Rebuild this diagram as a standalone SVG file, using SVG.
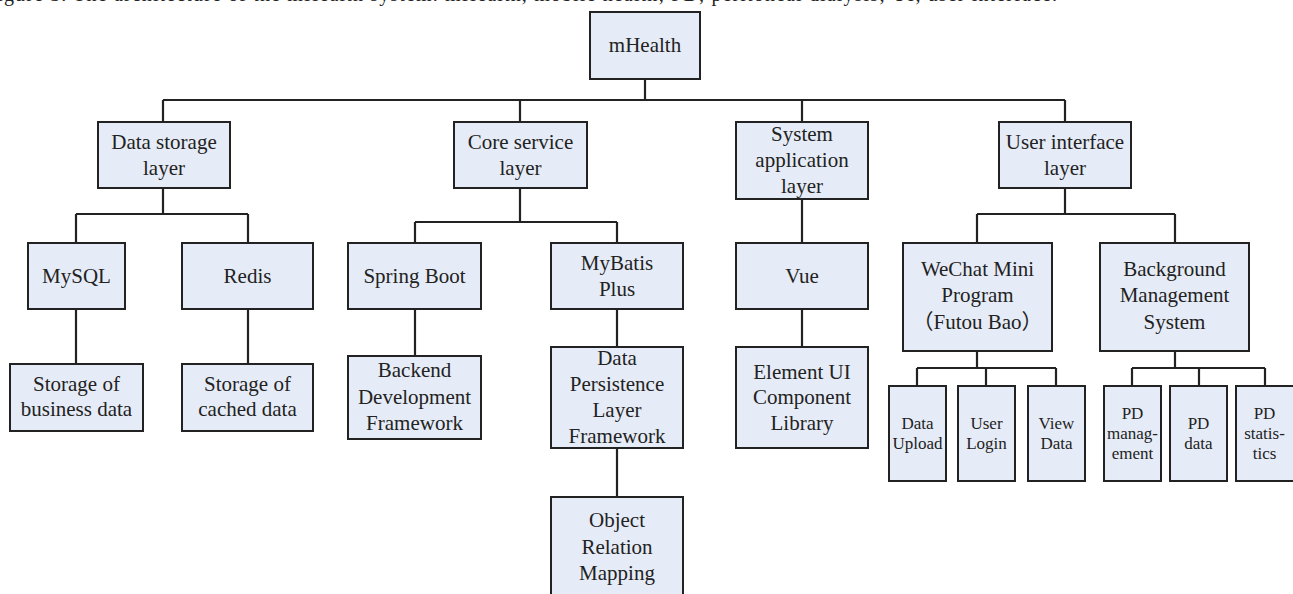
<svg xmlns="http://www.w3.org/2000/svg" width="1293" height="594" viewBox="0 0 1293 594">
<style>
.b{fill:#e6ecf7;stroke:#222;stroke-width:2}
.t{font-family:"Liberation Serif","Noto Sans CJK SC",serif;font-size:21px;fill:#222;text-anchor:middle}
.s{font-family:"Liberation Serif","Noto Sans CJK SC",serif;font-size:17px;fill:#222;text-anchor:middle}
.c{fill:none;stroke:#222;stroke-width:2.2}
.cap{font-family:"Liberation Serif",serif;font-size:20px;fill:#222}
</style>
<rect width="1293" height="594" fill="#fff"/>
<text class="cap" x="-15" y="0.5" textLength="1072" lengthAdjust="spacing">Figure 3. The architecture of the mHealth system. mHealth, mobile health; PD, peritoneal dialysis; UI, user interface.</text>
<g id="connectors">
<path class="c" d="M645,79V100M163,100H1065M163,100V122M520,100V122M802,100V122M1065,100V122"/>
<path class="c" d="M163,188V214M76,214H248M76,214V243M248,214V243M76,309V364M248,309V364"/>
<path class="c" d="M520,188V222M415,222H617M415,222V243M617,222V243M415,309V356M617,309V347M617,448V497"/>
<path class="c" d="M802,199V243M802,309V347"/>
<path class="c" d="M1065,188V214M977,214H1175M977,214V243M1175,214V243"/>
<path class="c" d="M977,351V368M917,368H1056M917,368V386M986,368V386M1056,368V386"/>
<path class="c" d="M1175,351V368M1132,368H1265M1132,368V386M1199,368V386M1265,368V386"/>
</g>
<g id="mhealth"><rect class="b" x="590" y="12" width="110" height="67"/><text class="t" x="645" y="52">mHealth</text></g>
<g id="data-storage"><rect class="b" x="98" y="122" width="132" height="66"/><text class="t" x="164" y="149">Data storage</text><text class="t" x="164" y="175">layer</text></g>
<g id="core-service"><rect class="b" x="454" y="122" width="133" height="66"/><text class="t" x="520.5" y="149">Core service</text><text class="t" x="520.5" y="175">layer</text></g>
<g id="system-app"><rect class="b" x="736" y="122" width="132" height="77"/><text class="t" x="802" y="141">System</text><text class="t" x="802" y="167">application</text><text class="t" x="802" y="193">layer</text></g>
<g id="user-interface"><rect class="b" x="999" y="122" width="132" height="66"/><text class="t" x="1065" y="149">User interface</text><text class="t" x="1065" y="175">layer</text></g>
<g id="mysql"><rect class="b" x="28" y="243" width="97" height="66"/><text class="t" x="76.5" y="283">MySQL</text></g>
<g id="redis"><rect class="b" x="182" y="243" width="131" height="66"/><text class="t" x="247.5" y="283">Redis</text></g>
<g id="spring-boot"><rect class="b" x="348" y="243" width="133" height="66"/><text class="t" x="414.5" y="283">Spring Boot</text></g>
<g id="mybatis"><rect class="b" x="551" y="243" width="132" height="66"/><text class="t" x="617" y="270">MyBatis</text><text class="t" x="617" y="296">Plus</text></g>
<g id="vue"><rect class="b" x="736" y="243" width="132" height="66"/><text class="t" x="802" y="283">Vue</text></g>
<g id="wechat"><rect class="b" x="903" y="243" width="149" height="108"/><text class="t" x="977.5" y="276">WeChat Mini</text><text class="t" x="977.5" y="302">Program</text><text class="t" x="977.5" y="329">（Futou Bao）</text></g>
<g id="background"><rect class="b" x="1100" y="243" width="149" height="108"/><text class="t" x="1174.5" y="276">Background</text><text class="t" x="1174.5" y="302">Management</text><text class="t" x="1174.5" y="329">System</text></g>
<g id="business-data"><rect class="b" x="10" y="364" width="133" height="67"/><text class="t" x="76.5" y="391">Storage of</text><text class="t" x="76.5" y="416">business data</text></g>
<g id="cached-data"><rect class="b" x="182" y="364" width="131" height="67"/><text class="t" x="247.5" y="391">Storage of</text><text class="t" x="247.5" y="416">cached data</text></g>
<g id="backend"><rect class="b" x="348" y="356" width="133" height="83"/><text class="t" x="414.5" y="377">Backend</text><text class="t" x="414.5" y="404">Development</text><text class="t" x="414.5" y="430">Framework</text></g>
<g id="persistence"><rect class="b" x="551" y="347" width="132" height="101"/><text class="t" x="617" y="365">Data</text><text class="t" x="617" y="391">Persistence</text><text class="t" x="617" y="417">Layer</text><text class="t" x="617" y="443">Framework</text></g>
<g id="orm"><rect class="b" x="551" y="497" width="132" height="105"/><text class="t" x="617" y="527">Object</text><text class="t" x="617" y="554">Relation</text><text class="t" x="617" y="580">Mapping</text></g>
<g id="element-ui"><rect class="b" x="736" y="347" width="132" height="101"/><text class="t" x="802" y="379">Element UI</text><text class="t" x="802" y="404">Component</text><text class="t" x="802" y="430">Library</text></g>
<g id="data-upload"><rect class="b" x="889" y="386" width="57" height="95"/><text class="s" x="917.5" y="429">Data</text><text class="s" x="917.5" y="449">Upload</text></g>
<g id="user-login"><rect class="b" x="958" y="386" width="57" height="95"/><text class="s" x="986.5" y="429">User</text><text class="s" x="986.5" y="449">Login</text></g>
<g id="view-data"><rect class="b" x="1028" y="386" width="57" height="95"/><text class="s" x="1056.5" y="429">View</text><text class="s" x="1056.5" y="449">Data</text></g>
<g id="pd-management"><rect class="b" x="1104" y="386" width="57" height="95"/><text class="s" x="1132.5" y="419">PD</text><text class="s" x="1132.5" y="439">manag-</text><text class="s" x="1132.5" y="459">ement</text></g>
<g id="pd-data"><rect class="b" x="1170" y="386" width="57" height="95"/><text class="s" x="1198.5" y="429">PD</text><text class="s" x="1198.5" y="449">data</text></g>
<g id="pd-statistics"><rect class="b" x="1236" y="386" width="59" height="95"/><text class="s" x="1264.5" y="419">PD</text><text class="s" x="1264.5" y="439">statis-</text><text class="s" x="1264.5" y="459">tics</text></g>
</svg>
